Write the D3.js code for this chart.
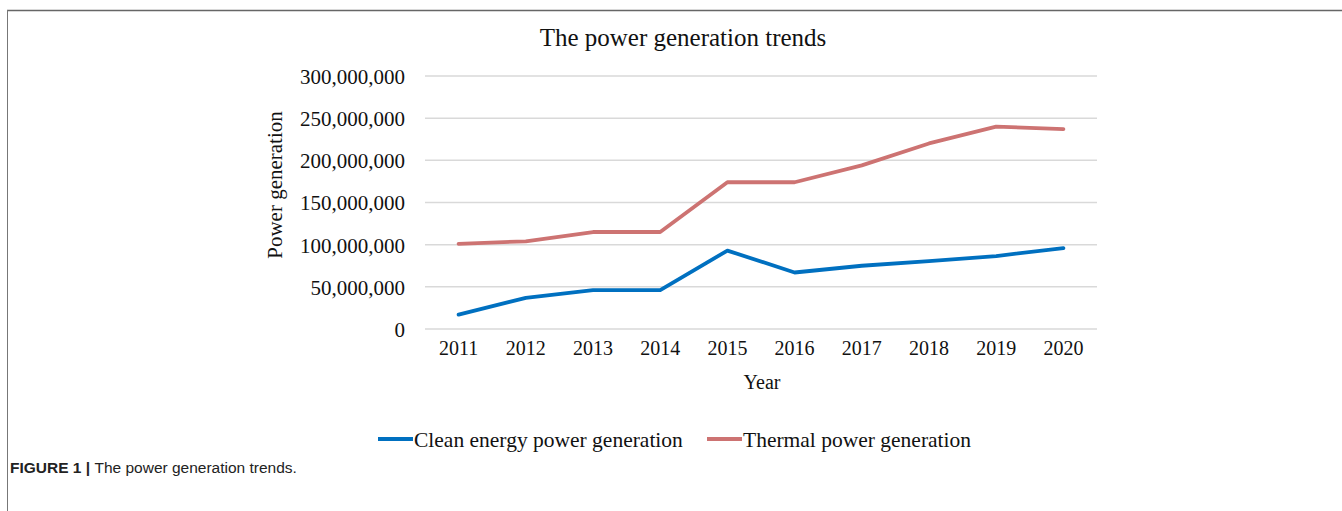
<!DOCTYPE html>
<html>
<head>
<meta charset="utf-8">
<script src="https://cdn.jsdelivr.net/npm/d3@7"></script>
<style>
  body { margin: 0; background: #fff; }
  svg { display: block; }
</style>
</head>
<body>
<svg id="chart"></svg>
<script>
// chart data
var years = ["2011","2012","2013","2014","2015","2016","2017","2018","2019","2020"];
var clean = [17000000, 37000000, 46000000, 46000000, 93000000, 67000000, 75000000, 80500000, 86500000, 96000000];
var thermal = [101000000, 104000000, 115000000, 115000000, 174000000, 174000000, 194000000, 220000000, 240000000, 237000000];
var yTicks = [0, 50000000, 100000000, 150000000, 200000000, 250000000, 300000000];
var seriesNames = ["Clean energy power generation", "Thermal power generation"];

var width = 1342, height = 511;
var margin = {left: 425, right: 245, top: 76, bottom: 182};
var serif = "'Liberation Serif', 'Times New Roman', serif";

var svg = d3.select("#chart")
    .attr("width", width)
    .attr("height", height);

// figure frame (top + left rule)
svg.append("line")
    .attr("x1", 7).attr("x2", width).attr("y1", 10.5).attr("y2", 10.5)
    .attr("style", "stroke:#666; stroke-width:1.5");
svg.append("line")
    .attr("x1", 7.5).attr("x2", 7.5).attr("y1", 10).attr("y2", height)
    .attr("style", "stroke:#777; stroke-width:1");

var x = d3.scaleBand()
    .domain(years)
    .range([margin.left, width - margin.right]);
var y = d3.scaleLinear()
    .domain([0, 300000000])
    .range([height - margin.bottom, margin.top]);

// gridlines
svg.append("g")
    .selectAll("line")
        .data(yTicks)
        .enter().append("line")
    .attr("x1", margin.left)
    .attr("x2", width - margin.right)
    .attr("y1", (d) => y(d))
    .attr("y2", (d) => y(d))
    .attr("style", "stroke:#d9d9d9; stroke-width:1.5");

// y axis labels
var fmt = d3.format(",");
var yAxis = svg.append("g")
    .attr("transform", "translate(" + (margin.left - 20) + ",0)")
    .call(d3.axisLeft(y).tickValues(yTicks).tickFormat((d) => d === 0 ? "0" : fmt(d)).tickSize(0));
yAxis.select(".domain").remove();
yAxis.selectAll("text")
    .attr("x", 0)
    .attr("dy", ".35em")
    .attr("style", "font: 21px " + serif + "; fill:#111");

// x axis labels
var xAxis = svg.append("g")
    .attr("transform", "translate(0,341)")
    .call(d3.axisBottom(x).tickSize(0));
xAxis.select(".domain").remove();
xAxis.selectAll("text")
    .attr("y", 0)
    .attr("dy", "0.71em")
    .attr("style", "font: 20px " + serif + "; fill:#111");

// titles
svg.append("text")
    .attr("x", 683).attr("y", 46)
    .attr("text-anchor", "middle")
    .attr("style", "font: 25px " + serif + "; fill:#111")
    .text("The power generation trends");
svg.append("text")
    .attr("x", 762).attr("y", 389)
    .attr("text-anchor", "middle")
    .attr("style", "font: 20px " + serif + "; fill:#111")
    .text("Year");
svg.append("text")
    .attr("transform", "translate(282,185) rotate(-90)")
    .attr("text-anchor", "middle")
    .attr("style", "font: 21px " + serif + "; fill:#111")
    .text("Power generation");

// lines
var line = d3.line()
    .x((d, i) => x(years[i]) + x.bandwidth() / 2)
    .y((d) => y(d));
var colors = ["#0070c0", "#cd7372"];
[clean, thermal].forEach(function(s, k) {
    svg.append("path")
        .datum(s)
        .attr("d", line)
        .attr("style", "fill:none; stroke:" + colors[k] + "; stroke-width:3.8; stroke-linejoin:round; stroke-linecap:round");
});

// legend
var legendX = [378, 707];
seriesNames.forEach(function(n, k) {
    var g = svg.append("g").attr("transform", "translate(" + legendX[k] + ",439)");
    g.append("line")
        .attr("x1", 0).attr("x2", 35)
        .attr("style", "stroke:" + colors[k] + "; stroke-width:3.8");
    g.append("text")
        .attr("x", 36).attr("dy", ".35em")
        .attr("style", "font: 21.5px " + serif + "; fill:#111")
        .text(n);
});

// caption
var cap = svg.append("text")
    .attr("x", 10).attr("y", 473)
    .attr("style", "font: 15.5px 'Liberation Sans', Arial, sans-serif; fill:#222");
cap.append("tspan").attr("style", "font-weight:bold").text("FIGURE 1 | ");
cap.append("tspan").text("The power generation trends.");
</script>
</body>
</html>
